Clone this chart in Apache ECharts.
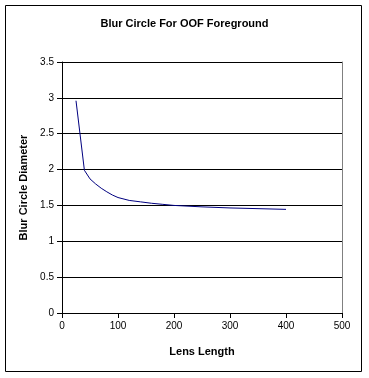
<!DOCTYPE html>
<html><head><meta charset="utf-8">
<script src="https://cdn.jsdelivr.net/npm/echarts@6/dist/echarts.min.js"></script>
<style>html,body{margin:0;padding:0;background:#fff}#c{width:369px;height:378px}</style>
</head><body><div id="c"></div>
<script>
const lensLength = [25, 40, 50, 60, 70, 80, 90, 100, 120, 140, 160, 180, 200, 250, 300, 350, 400];
const blurDiameter = [2.96, 1.99, 1.87, 1.80, 1.74, 1.69, 1.645, 1.61, 1.57, 1.55, 1.53, 1.515, 1.50, 1.48, 1.465, 1.455, 1.445];
const title = 'Blur Circle For OOF Foreground';
const xName = 'Lens Length';
const yName = 'Blur Circle Diameter';

const chart = echarts.init(document.getElementById('c'), null, {renderer: 'canvas'});
const font = 'Liberation Sans, Arial, sans-serif';
chart.setOption({
  animation: false,
  backgroundColor: '#fff',
  title: {text: title, left: 'center', top: 13, textStyle: {fontFamily: font, fontSize: 11, fontWeight: 'bold', color: '#000'}},
  grid: {left: 62, right: 27, top: 62, bottom: 65, show: false},
  graphic: [{type: 'rect', shape: {x: 5.5, y: 5.5, width: 356, height: 366}, style: {fill: 'none', stroke: '#000', lineWidth: 1}, silent: true}],
  xAxis: {
    type: 'value', min: 0, max: 500, interval: 100,
    name: xName, nameLocation: 'middle', nameGap: 33,
    nameTextStyle: {fontFamily: font, fontSize: 11, fontWeight: 'bold', color: '#000'},
    axisLine: {lineStyle: {color: '#000', width: 1}},
    axisTick: {show: true, length: 5, lineStyle: {color: '#000'}},
    axisLabel: {fontFamily: font, fontSize: 10, color: '#000', margin: 8},
    splitLine: {show: false}
  },
  yAxis: [{
    type: 'value', min: 0, max: 3.5, interval: 0.5,
    name: yName, nameLocation: 'middle', nameGap: 27,
    nameTextStyle: {fontFamily: font, fontSize: 11, fontWeight: 'bold', color: '#000'},
    axisLine: {show: true, lineStyle: {color: '#000', width: 1}},
    axisTick: {show: true, length: 5, lineStyle: {color: '#000'}},
    axisLabel: {fontFamily: font, fontSize: 10, color: '#000', margin: 8},
    splitLine: {show: true, lineStyle: {color: '#000', width: 1}}
  }, {
    type: 'value', min: 0, max: 3.5, interval: 0.5, position: 'right',
    axisLine: {show: true, lineStyle: {color: '#808080', width: 1}},
    axisTick: {show: false}, axisLabel: {show: false}, splitLine: {show: false}
  }],
  series: [{
    type: 'line',
    data: lensLength.map((x, i) => [x, blurDiameter[i]]),
    showSymbol: false,
    lineStyle: {color: '#000080', width: 1},
    itemStyle: {color: '#000080'}
  }]
});
</script></body></html>
